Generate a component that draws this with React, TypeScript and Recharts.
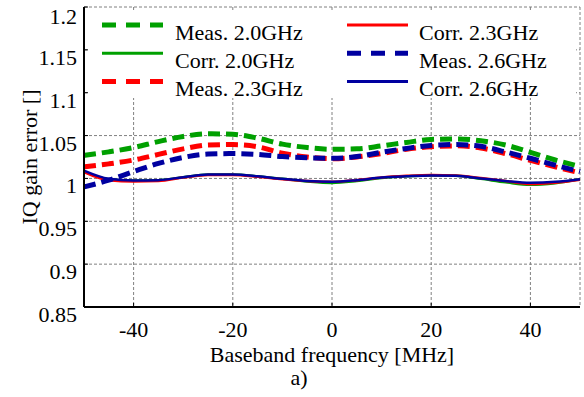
import React from 'react';
import { LineChart, Line, XAxis, YAxis, CartesianGrid, Legend, Label } from 'recharts';

// Baseband frequency grid [MHz]
const freqMHz = [-50, -45, -40, -35, -30, -25, -20, -15, -10, -5, 0, 5, 10, 15, 20, 25, 30, 35, 40, 45, 50];

// IQ gain error, measured and corrected, per carrier frequency
const meas20 = [1.027, 1.031, 1.036, 1.043, 1.049, 1.052, 1.0515, 1.047, 1.04, 1.036, 1.034, 1.0345, 1.038, 1.042, 1.0455, 1.046, 1.044, 1.039, 1.0305, 1.0215, 1.014];
const corr20 = [1.008, 0.999, 0.9975, 0.998, 1.0015, 1.0045, 1.0045, 1.0025, 0.9995, 0.9965, 0.9948, 0.997, 1.0005, 1.0025, 1.0035, 1.003, 0.9995, 0.9955, 0.9925, 0.9945, 0.999];
const meas23 = [1.0135, 1.017, 1.0215, 1.028, 1.0345, 1.039, 1.0395, 1.037, 1.0295, 1.025, 1.023, 1.025, 1.029, 1.034, 1.037, 1.038, 1.0355, 1.029, 1.021, 1.0135, 1.0065];
const corr23 = [1.0075, 0.998, 0.9965, 0.997, 1.001, 1.004, 1.004, 1.002, 0.999, 0.997, 0.996, 0.998, 1.0012, 1.003, 1.004, 1.0035, 1.0005, 0.997, 0.9935, 0.995, 0.9985];
const meas26 = [0.99, 0.998, 1.008, 1.0175, 1.0245, 1.0285, 1.029, 1.028, 1.0255, 1.024, 1.0235, 1.0255, 1.0305, 1.035, 1.0385, 1.0395, 1.0375, 1.031, 1.0235, 1.0155, 1.008];
const corr26 = [1.009, 0.9995, 0.9975, 0.998, 1.0015, 1.0045, 1.0045, 1.0025, 0.9995, 0.997, 0.9962, 0.998, 1.001, 1.0025, 1.0035, 1.003, 1.0, 0.997, 0.995, 0.996, 0.999];

const xTicks = [-40, -20, 0, 20, 40];
const yTicks = [0.85, 0.9, 0.95, 1, 1.05, 1.1, 1.15, 1.2];

const GREEN = '#00a000';
const RED = '#ff0000';
const BLUE = '#0000a0';
const FONT = "'Liberation Serif', 'Times New Roman', serif";

const series = [
  { key: 'meas20', name: 'Meas. 2.0GHz', color: GREEN, dashed: true },
  { key: 'corr20', name: 'Corr. 2.0GHz', color: GREEN, dashed: false },
  { key: 'meas23', name: 'Meas. 2.3GHz', color: RED, dashed: true },
  { key: 'corr23', name: 'Corr. 2.3GHz', color: RED, dashed: false },
  { key: 'meas26', name: 'Meas. 2.6GHz', color: BLUE, dashed: true },
  { key: 'corr26', name: 'Corr. 2.6GHz', color: BLUE, dashed: false },
];

const data = freqMHz.map((f, i) => ({
  f,
  meas20: meas20[i],
  corr20: corr20[i],
  meas23: meas23[i],
  corr23: corr23[i],
  meas26: meas26[i],
  corr26: corr26[i],
}));

const XTick = (props: any) => (
  <text x={props.x} y={props.y + 30} textAnchor="middle" fontFamily={FONT} fontSize={22} fill="#000">
    {String(props.payload.value)}
  </text>
);

const YTick = (props: any) => (
  <text x={props.x} y={props.y + 15} textAnchor="end" fontFamily={FONT} fontSize={22} fill="#000">
    {String(props.payload.value)}
  </text>
);

const XTitle = (props: any) => {
  const vb = props.viewBox || { x: 84, y: 307, width: 496, height: 90 };
  const cx = vb.x + vb.width / 2;
  return (
    <g>
      <text x={cx} y={vb.y + 54.5} textAnchor="middle" fontFamily={FONT} fontSize={22} fill="#000">
        Baseband frequency [MHz]
      </text>
      <text x={cx - 33} y={vb.y + 78} textAnchor="middle" fontFamily={FONT} fontSize={22} fill="#000">
        a)
      </text>
    </g>
  );
};

const YTitle = (props: any) => {
  const vb = props.viewBox || { x: 0, y: 7, width: 84, height: 300 };
  const cx = 36.5;
  const cy = vb.y + vb.height / 2;
  return (
    <text
      x={cx}
      y={cy}
      transform={`rotate(-90, ${cx}, ${cy})`}
      textAnchor="middle"
      fontFamily={FONT}
      fontSize={22}
      fill="#000"
    >
      IQ gain error []
    </text>
  );
};

// Two-column legend on a white panel inside the plot frame
const LegendPanel = () => {
  const cols = [
    { lineX: 13, textX: 86 },
    { lineX: 258, textX: 330 },
  ];
  const rowY = [13, 41.3, 69.6];
  return (
    <svg width={487} height={94} style={{ display: 'block', overflow: 'visible' }}>
      <rect x={0} y={0} width={487} height={86} fill="#fff" />
      {series.map((s, i) => {
        const c = cols[Math.floor(i / 3)];
        const y = rowY[i % 3];
        return (
          <g key={s.key}>
            <line
              x1={c.lineX}
              x2={c.lineX + 61}
              y1={y}
              y2={y}
              stroke={s.color}
              strokeWidth={s.dashed ? 5 : 3}
              strokeDasharray={s.dashed ? '14 10' : undefined}
            />
            <text x={c.textX} y={y + 14.6} fontFamily={FONT} fontSize={22} fill="#000">
              {s.name}
            </text>
          </g>
        );
      })}
    </svg>
  );
};

export default function App() {
  return (
    <div style={{ position: 'absolute', left: 0, top: 0, width: 584, height: 397, background: '#fff' }}>
      <LineChart width={584} height={397} data={data} margin={{ top: 7, right: 4, bottom: 0, left: 0 }}>
        <CartesianGrid stroke="#808080" strokeDasharray="3 2" strokeWidth={1} />
        <XAxis
          dataKey="f"
          type="number"
          domain={[-50, 50]}
          ticks={xTicks}
          height={90}
          tickSize={-4}
          tickMargin={4}
          tick={XTick}
          axisLine={{ stroke: '#000', strokeWidth: 2 }}
          tickLine={{ stroke: '#000' }}
        >
          <Label content={XTitle} />
        </XAxis>
        <XAxis
          xAxisId="top"
          orientation="top"
          dataKey="f"
          type="number"
          domain={[-50, 50]}
          ticks={xTicks}
          height={0}
          tickSize={-4}
          tick={false}
          axisLine={{ stroke: '#000', strokeWidth: 2 }}
          tickLine={{ stroke: '#000' }}
        />
        <YAxis
          type="number"
          domain={[0.85, 1.2]}
          ticks={yTicks}
          width={84}
          tickSize={-4}
          tickMargin={11}
          tick={YTick}
          axisLine={{ stroke: '#000', strokeWidth: 2 }}
          tickLine={{ stroke: '#000' }}
        >
          <Label content={YTitle} />
        </YAxis>
        <YAxis
          yAxisId="right"
          orientation="right"
          type="number"
          domain={[0.85, 1.2]}
          ticks={yTicks}
          width={0}
          tickSize={-4}
          tick={false}
          axisLine={{ stroke: '#000', strokeWidth: 2 }}
          tickLine={{ stroke: '#000' }}
        />
        {series.map((s) => (
          <Line
            key={s.key}
            dataKey={s.key}
            name={s.name}
            type="monotone"
            stroke={s.color}
            strokeWidth={s.dashed ? 5 : 2.5}
            strokeDasharray={s.dashed ? '12 6' : undefined}
            dot={false}
            activeDot={false}
            isAnimationActive={false}
          />
        ))}
        <Legend
          layout="horizontal"
          verticalAlign="middle"
          align="center"
          content={LegendPanel}
          wrapperStyle={{ position: 'absolute', left: 89, top: 12, width: 487, height: 94 }}
        />
      </LineChart>
    </div>
  );
}
